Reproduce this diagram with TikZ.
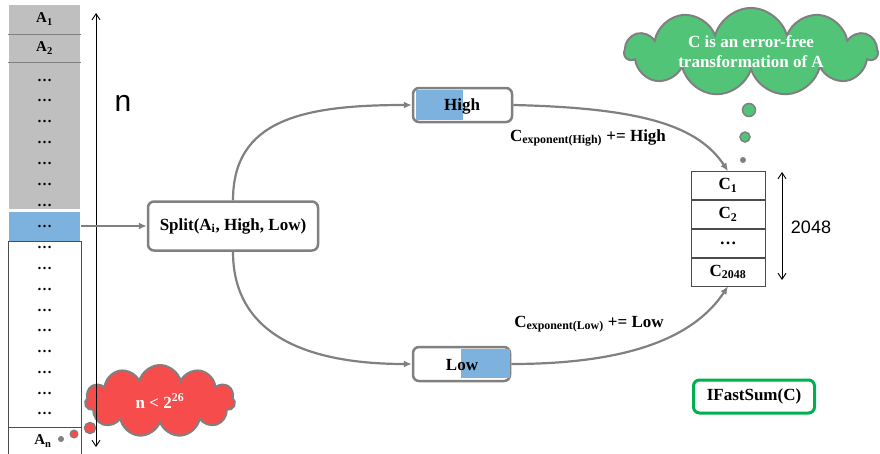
\documentclass[tikz,border=0pt]{standalone}
\usepackage{fontspec}
\setmainfont{Liberation Serif}
\newfontfamily\plainsans{Liberation Sans}
\usetikzlibrary{arrows.meta,positioning,shapes.symbols}
\definecolor{cellgray}{RGB}{191,191,191}
\definecolor{cellblue}{RGB}{125,177,222}
\definecolor{linegray}{RGB}{128,128,128}
\definecolor{cloudgreen}{RGB}{82,196,120}
\definecolor{cloudred}{RGB}{246,76,76}
\definecolor{boxgreen}{RGB}{0,176,80}

\begin{document}
\begin{tikzpicture}[x=1pt,y=-1pt,>=Latex,
cell text/.style={inner sep=0pt,font=\bfseries\fontsize{15}{17}\selectfont},
proc box/.style={draw=linegray,line width=2.5pt,rounded corners=6pt,fill=white,inner sep=0pt},
patch/.style={fill=cellblue,inner sep=0pt},
flow/.style={-{Latex[length=8pt,width=7pt]},draw=linegray,line width=2.2pt},
span/.style={{Straight Barb[length=6pt,width=8pt]}-{Straight Barb[length=6pt,width=8pt]},line width=0.9pt},
edge label/.style={inner sep=1pt,font=\bfseries\fontsize{17}{20}\selectfont},
ctab/.style={draw=black!70,line width=0.8pt,minimum width=74pt,minimum height=28pt,inner sep=0pt,font=\bfseries\fontsize{17}{20}\selectfont},
thought/.style={cloud,cloud puffs=11,cloud ignores aspect,draw=linegray,line width=2pt,align=center,inner sep=0pt,text=white,font=\bfseries\fontsize{17}{20}\selectfont},
bubble/.style={circle,draw=linegray,line width=1.5pt,inner sep=0pt}]
\clip (0,0) rectangle (880,453);
\node[fill=cellgray,draw=white,line width=1pt,minimum width=72pt,minimum height=205pt,inner sep=0pt] (grayblk) at (44.5,107) {};
\node[cell text] (a1) at (44.5,19) {A\textsubscript{1}};
\node[cell text] (a2) at (44.5,48) {A\textsubscript{2}};
\draw[linegray,line width=1pt] (grayblk.west |- 0,34) -- (grayblk.east |- 0,34);
\draw[linegray,line width=1pt] (grayblk.west |- 0,62) -- (grayblk.east |- 0,62);
\foreach \i/\yy in {1/80,2/100,3/121,4/142,5/163,6/184,7/205}
  \node[cell text] (g\i) at (44.5,\yy) {\dots};
\node[patch,draw=white,line width=1pt,minimum width=72pt,minimum height=30pt,cell text] (ai) at (44.5,226) {\dots};
\node[draw=black!70,line width=0.8pt,minimum width=73pt,minimum height=240pt,anchor=north west] (wcol) at (8,241) {};
\foreach \i/\yy in {1/247,2/268,3/289,4/310,5/330,6/351,7/372,8/393,9/413}
  \node[cell text] (w\i) at (44.5,\yy) {\dots};
\draw[black!70,line width=0.8pt] (wcol.west |- 0,427) -- (wcol.east |- 0,427);
\node[cell text] (an) at (43,441) {A\textsubscript{n}};
\node[thought,fill=cloudred,minimum width=150pt,minimum height=72pt] (limit) at (160,401) {n < 2\textsuperscript{26}};
\node[bubble,fill=cloudred,minimum size=11pt] (rb1) at (90,428) {};
\node[bubble,fill=cloudred,minimum size=8pt,line width=1pt] (rb2) at (74,434) {};
\node[circle,fill=linegray,minimum size=6pt,inner sep=0pt] (rb3) at (61,439) {};
\coordinate (ntop) at (96,13);
\coordinate (nbot) at (96,447);
\draw[span] (ntop) -- (nbot);
\node[font=\plainsans\fontsize{30}{30}\selectfont] (nlab) at (123,103) {n};
\node[proc box,minimum width=170pt,minimum height=49pt,font=\bfseries\fontsize{17}{20}\selectfont] (split) at (233,226) {Split(A\textsubscript{i}, High, Low)};
\node[proc box,minimum width=99pt,minimum height=34pt] (high) at (462.5,105) {};
\node[patch,minimum width=47pt,minimum height=30pt,anchor=west] (highblue) at (416,105) {};
\node[edge label] (hightext) at (462,106) {High};
\node[proc box,minimum width=97pt,minimum height=34pt] (low) at (461.5,364) {};
\node[patch,minimum width=49pt,minimum height=29pt,anchor=east] (lowblue) at (510,363.5) {};
\node[edge label] (lowtext) at (462,365) {Low};
\draw[flow] (ai.east) -- (split.west);
\draw[flow] (split.north) .. controls +(0,-80) and +(-110,0) .. (high.west);
\draw[flow] (split.south) .. controls +(0,80) and +(-110,0) .. (low.west);
\node[ctab] (c1) at (728,185.5) {C\textsubscript{1}};
\node[ctab,below=0pt of c1] (c2) {C\textsubscript{2}};
\node[ctab,below=0pt of c2] (cdots) {\dots};
\node[ctab,below=0pt of cdots] (clast) {C\textsubscript{2048}};
\draw[flow] (high.east) .. controls +(130,3) and +(-30,-45) .. (c1.north);
\draw[flow] (low.east) .. controls +(130,0) and +(-30,45) .. (clast.south);
\node[edge label] (hightag) at (588,138) {C\textsubscript{exponent(High)} += High};
\node[edge label] (lowtag) at (589,324) {C\textsubscript{exponent(Low)} += Low};
\coordinate (ctop) at (782,172);
\coordinate (cbot) at (782,280);
\draw[span] (ctop) -- (cbot);
\node[font=\plainsans\fontsize{18}{18}\selectfont] (csize) at (811,227) {2048};
\node[thought,fill=cloudgreen,minimum width=252pt,minimum height=74pt] (claim) at (751,52) {C is an error-free\\transformation of A};
\node[bubble,fill=cloudgreen,minimum size=13pt] (gb1) at (749,110) {};
\node[bubble,fill=cloudgreen,minimum size=10pt] (gb2) at (745,137) {};
\node[circle,fill=linegray,minimum size=6pt,inner sep=0pt] (gb3) at (743,160) {};
\node[draw=boxgreen,line width=3pt,rounded corners=6pt,minimum width=121pt,minimum height=33pt,font=\bfseries\fontsize{17}{20}\selectfont] (fastsum) at (754,396.5) {IFastSum(C)};
\end{tikzpicture}
\end{document}
